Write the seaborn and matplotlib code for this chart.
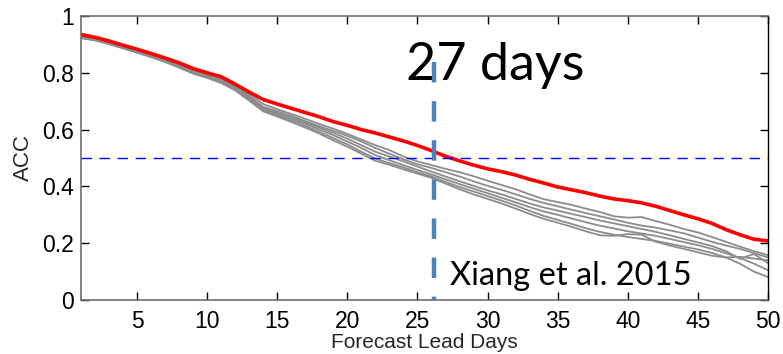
import numpy as np
import pandas as pd
import matplotlib
matplotlib.use("Agg")
import matplotlib.pyplot as plt
import seaborn as sns

sns.set_style("ticks")
plt.rcParams["font.family"] = ["Liberation Sans", "DejaVu Sans"]

# forecast lead days
days = list(range(1, 51))

# ACC of the highlighted (red) forecast
acc_red = [0.935, 0.925, 0.912, 0.897, 0.883, 0.868, 0.852, 0.835, 0.815, 0.800,
           0.786, 0.760, 0.732, 0.706, 0.690, 0.675, 0.660, 0.645, 0.628, 0.615,
           0.600, 0.588, 0.574, 0.560, 0.544, 0.526, 0.506, 0.490, 0.475, 0.462,
           0.452, 0.440, 0.425, 0.412, 0.398, 0.388, 0.378, 0.366, 0.356, 0.350,
           0.342, 0.330, 0.315, 0.300, 0.286, 0.270, 0.248, 0.230, 0.214, 0.208]

# ACC of the other (gray) forecasts
acc_g1 = [0.928, 0.920, 0.908, 0.894, 0.879, 0.863, 0.847, 0.829, 0.809, 0.795,
          0.780, 0.757, 0.725, 0.690, 0.672, 0.655, 0.638, 0.620, 0.603, 0.585,
          0.565, 0.545, 0.528, 0.505, 0.488, 0.475, 0.462, 0.450, 0.436, 0.420,
          0.405, 0.390, 0.372, 0.355, 0.345, 0.335, 0.322, 0.310, 0.295, 0.290,
          0.292, 0.278, 0.265, 0.250, 0.238, 0.222, 0.205, 0.188, 0.172, 0.158]
acc_g2 = [0.926, 0.918, 0.906, 0.892, 0.877, 0.861, 0.845, 0.826, 0.806, 0.792,
          0.776, 0.752, 0.718, 0.680, 0.665, 0.648, 0.630, 0.612, 0.595, 0.578,
          0.558, 0.535, 0.515, 0.495, 0.478, 0.465, 0.450, 0.435, 0.418, 0.402,
          0.388, 0.372, 0.356, 0.342, 0.330, 0.318, 0.306, 0.295, 0.284, 0.272,
          0.262, 0.255, 0.245, 0.235, 0.220, 0.205, 0.192, 0.180, 0.165, 0.150]
acc_g3 = [0.925, 0.917, 0.905, 0.890, 0.875, 0.859, 0.843, 0.824, 0.803, 0.789,
          0.773, 0.748, 0.714, 0.676, 0.660, 0.643, 0.625, 0.607, 0.588, 0.568,
          0.545, 0.522, 0.505, 0.488, 0.470, 0.452, 0.435, 0.418, 0.402, 0.386,
          0.372, 0.356, 0.340, 0.326, 0.315, 0.303, 0.292, 0.280, 0.270, 0.260,
          0.250, 0.240, 0.228, 0.215, 0.203, 0.190, 0.172, 0.145, 0.162, 0.130]
acc_g4 = [0.924, 0.916, 0.904, 0.889, 0.874, 0.858, 0.842, 0.822, 0.801, 0.787,
          0.770, 0.745, 0.710, 0.672, 0.655, 0.638, 0.620, 0.600, 0.580, 0.558,
          0.535, 0.510, 0.492, 0.475, 0.458, 0.442, 0.425, 0.408, 0.392, 0.376,
          0.360, 0.344, 0.327, 0.312, 0.300, 0.287, 0.274, 0.262, 0.252, 0.242,
          0.234, 0.226, 0.215, 0.204, 0.193, 0.180, 0.165, 0.148, 0.128, 0.105]
acc_g5 = [0.923, 0.915, 0.902, 0.887, 0.872, 0.856, 0.840, 0.820, 0.799, 0.784,
          0.767, 0.741, 0.706, 0.668, 0.650, 0.632, 0.613, 0.592, 0.570, 0.548,
          0.522, 0.498, 0.482, 0.467, 0.450, 0.435, 0.416, 0.398, 0.382, 0.366,
          0.350, 0.333, 0.314, 0.296, 0.282, 0.268, 0.253, 0.240, 0.230, 0.222,
          0.215, 0.208, 0.198, 0.188, 0.178, 0.166, 0.150, 0.128, 0.100, 0.081]
acc_g6 = [0.922, 0.914, 0.901, 0.886, 0.871, 0.855, 0.838, 0.818, 0.797, 0.782,
          0.764, 0.738, 0.702, 0.664, 0.646, 0.627, 0.607, 0.586, 0.562, 0.540,
          0.515, 0.490, 0.476, 0.460, 0.445, 0.430, 0.410, 0.390, 0.372, 0.356,
          0.340, 0.322, 0.303, 0.286, 0.272, 0.258, 0.242, 0.228, 0.226, 0.232,
          0.230, 0.205, 0.192, 0.180, 0.168, 0.156, 0.150, 0.152, 0.146, 0.140]

threshold = 0.5
cross_day = 26.2
cross_label = "27 days"
source_label = "Xiang et al. 2015"

gray_runs = [acc_g1, acc_g2, acc_g3, acc_g4, acc_g5, acc_g6]
df_gray = pd.DataFrame({
    "day": days * len(gray_runs),
    "acc": np.concatenate(gray_runs),
    "run": np.repeat(np.arange(len(gray_runs)), len(days)),
})
df_red = pd.DataFrame({"day": days, "acc": acc_red})

fig = plt.figure(figsize=(7.83, 3.54), dpi=100)
ax = fig.add_axes([0.1034, 0.1525, 0.8774, 0.8023])

sns.lineplot(data=df_gray, x="day", y="acc", units="run", estimator=None,
             color="#8c8c8c", linewidth=1.3, ax=ax, legend=False)
sns.lineplot(data=df_red, x="day", y="acc", color="#ff0000", linewidth=2.6,
             ax=ax, legend=False)

ax.axhline(threshold, color="#0000ff", linewidth=1.0, linestyle=(0, (7.5, 5.5)))
ax.plot([cross_day, cross_day], [0.838, 0.0], color="#4f81bd", linewidth=3.2,
        linestyle=(0, (4.6, 4.2)), solid_capstyle="butt", dash_capstyle="butt",
        clip_on=False, zorder=5)

ax.text(24.15, 0.775, cross_label, fontsize=37.5, family=["Lato", "DejaVu Sans"],
        va="baseline", ha="left", color="black")
ax.text(27.35, 0.053, source_label, fontsize=23.5, family=["Lato", "DejaVu Sans"],
        va="baseline", ha="left", color="black")

ax.set_xlim(1, 50)
ax.set_ylim(0, 1)
ax.set_xticks([5, 10, 15, 20, 25, 30, 35, 40, 45, 50])
ax.set_yticks([0, 0.2, 0.4, 0.6, 0.8, 1])
ax.set_yticklabels(["0", "0.2", "0.4", "0.6", "0.8", "1"])
ax.set_xlabel("Forecast Lead Days", fontsize=15, labelpad=0)
ax.set_ylabel("ACC", fontsize=16, labelpad=6)
ax.tick_params(direction="in", length=6, width=1, top=True, right=True,
               labelsize=16.5, colors="black")
ax.tick_params(axis="x", pad=7)
ax.tick_params(axis="y", pad=5)
for side in ["left", "bottom", "top"]:
    ax.spines[side].set_color("#6e6e6e")
    ax.spines[side].set_linewidth(1.2)
ax.spines["right"].set_color("black")
ax.spines["right"].set_linewidth(1.0)

fig.savefig("out.png", dpi=100)
